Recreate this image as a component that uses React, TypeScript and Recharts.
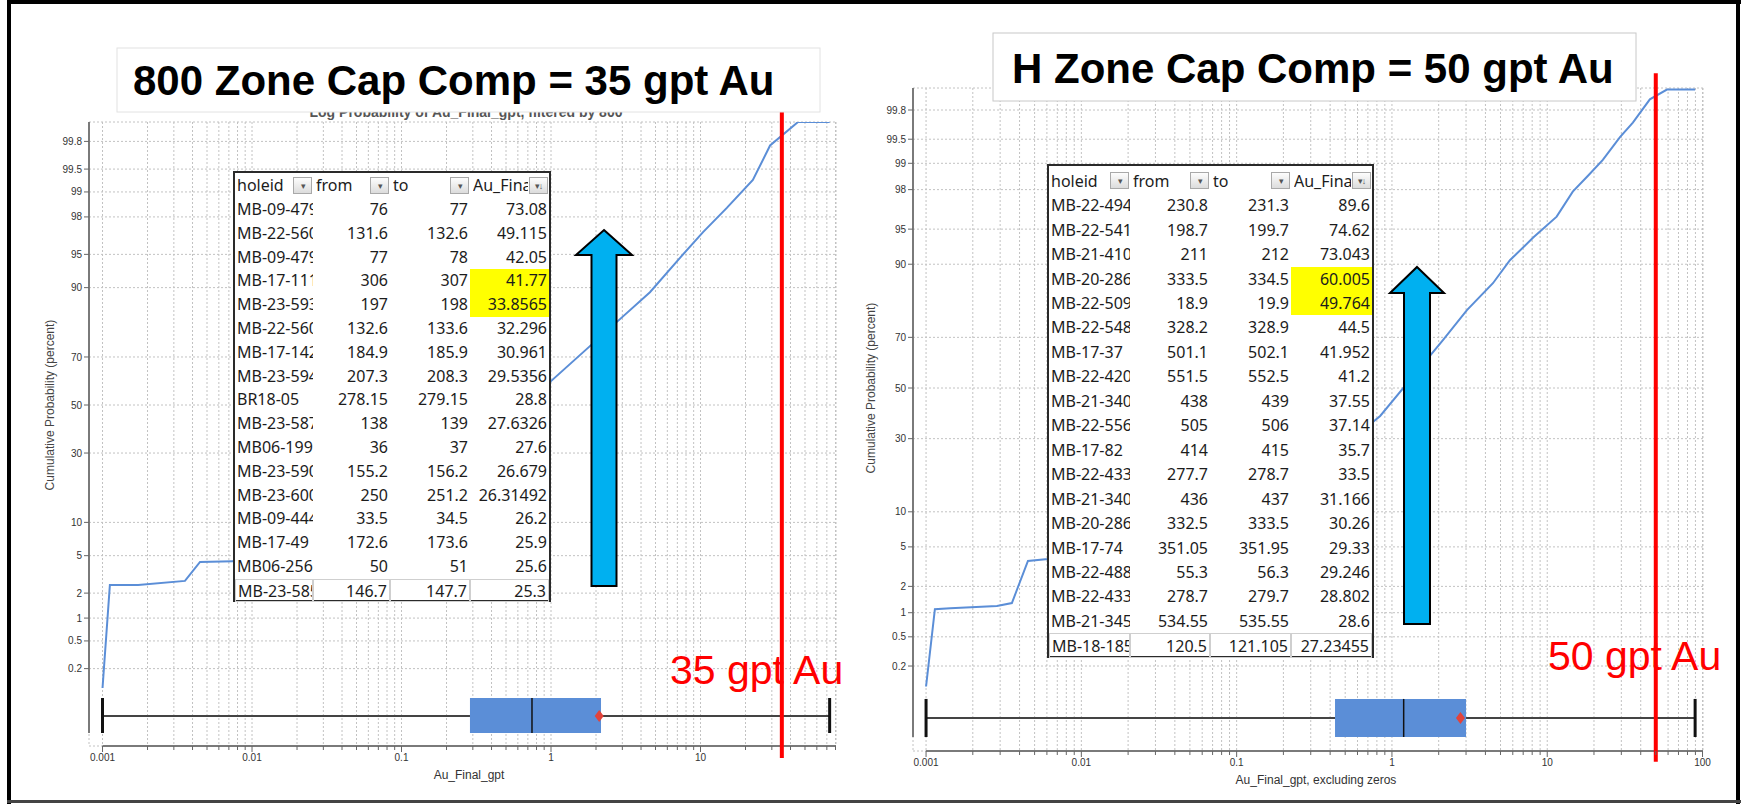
import React from "react";
import {
  ComposedChart,
  Line,
  Scatter,
  XAxis,
  YAxis,
  CartesianGrid,
  ReferenceLine,
  ReferenceArea,
} from "recharts";

// probability axis ticks (percent)
const PROB_TICKS = [0.2, 0.5, 1, 2, 5, 10, 30, 50, 70, 90, 95, 98, 99, 99.5, 99.8];
const DECADE_TICKS = [0.001, 0.01, 0.1, 1, 10, 100];
const DECADE_LABELS = ["0.001", "0.01", "0.1", "1", "10", "100"];

// 800 zone: grade (gpt) vs cumulative probability (percent)
const zone800Grade = [0.001, 0.00112, 0.00173, 0.00356, 0.00449, 0.00746, 0.02, 0.05, 0.1, 0.29, 0.75, 1.0, 2.76, 4.59, 7.29, 10.4, 15.0, 22.4, 29.2, 44.9, 73.08];
const zone800Prob = [0.1, 2.47, 2.47, 2.74, 4.33, 4.4, 9, 13, 18, 25, 50, 60.3, 81.8, 89.1, 94.6, 97.05, 98.43, 99.3, 99.77, 99.9, 99.9];
const zone800Box = { min: 0.001, q1: 0.287, median: 0.746, q3: 2.16, max: 73.08, mean: 2.1 };
const zone800Cap = 35;

// H zone
const zoneHGrade = [0.001, 0.00114, 0.00143, 0.00286, 0.00357, 0.00453, 0.0061, 0.02, 0.1, 0.43, 0.84, 2.13, 3.04, 4.47, 5.75, 8.09, 11.5, 14.6, 18.3, 22.8, 29.4, 35.6, 45.8, 59.0, 89.6];
const zoneHProb = [0.1, 1.1, 1.13, 1.2, 1.3, 3.67, 3.84, 7, 15, 25, 38.6, 69.0, 79.0, 86.1, 90.7, 94.0, 96.2, 97.9, 98.6, 99.09, 99.53, 99.7, 99.86, 99.9, 99.9];
const zoneHBox = { min: 0.001, q1: 0.43, median: 1.19, q3: 3.0, max: 89.6, mean: 2.76 };
const zoneHCap = 50;

// top composites tables
const zone800HoleIds = ["MB-09-479", "MB-22-560", "MB-09-479", "MB-17-111", "MB-23-593", "MB-22-560", "MB-17-142", "MB-23-594", "BR18-05", "MB-23-587", "MB06-199", "MB-23-590", "MB-23-600", "MB-09-444", "MB-17-49", "MB06-256", "MB-23-585"];
const zone800From = [76, 131.6, 77, 306, 197, 132.6, 184.9, 207.3, 278.15, 138, 36, 155.2, 250, 33.5, 172.6, 50, 146.7];
const zone800To = [77, 132.6, 78, 307, 198, 133.6, 185.9, 208.3, 279.15, 139, 37, 156.2, 251.2, 34.5, 173.6, 51, 147.7];
const zone800Au = [73.08, 49.115, 42.05, 41.77, 33.8565, 32.296, 30.961, 29.5356, 28.8, 27.6326, 27.6, 26.679, 26.31492, 26.2, 25.9, 25.6, 25.3];

const zoneHHoleIds = ["MB-22-494", "MB-22-541", "MB-21-410", "MB-20-286", "MB-22-509", "MB-22-548", "MB-17-37", "MB-22-420", "MB-21-340", "MB-22-556", "MB-17-82", "MB-22-433", "MB-21-340", "MB-20-286", "MB-17-74", "MB-22-488", "MB-22-433", "MB-21-345", "MB-18-185"];
const zoneHFrom = [230.8, 198.7, 211, 333.5, 18.9, 328.2, 501.1, 551.5, 438, 505, 414, 277.7, 436, 332.5, 351.05, 55.3, 278.7, 534.55, 120.5];
const zoneHTo = [231.3, 199.7, 212, 334.5, 19.9, 328.9, 502.1, 552.5, 439, 506, 415, 278.7, 437, 333.5, 351.95, 56.3, 279.7, 535.55, 121.105];
const zoneHAu = [89.6, 74.62, 73.043, 60.005, 49.764, 44.5, 41.952, 41.2, 37.55, 37.14, 35.7, 33.5, 31.166, 30.26, 29.33, 29.246, 28.802, 28.6, 27.23455];

const HEADERS = ["holeid", "from", "to", "Au_Final_gpt"];

// inverse normal cdf (Acklam) for the probability scale
function probit(p: number): number {
  const a = [-39.69683028665376, 220.9460984245205, -275.9285104469687, 138.357751867269, -30.66479806614716, 2.506628277459239];
  const b = [-54.47609879822406, 161.5858368580409, -155.6989798598866, 66.80131188771972, -13.28068155288572];
  const c = [-0.007784894002430293, -0.3223964580411365, -2.400758277161838, -2.549732539343734, 4.374664141464968, 2.938163982698783];
  const d = [0.007784695709041462, 0.3224671290700398, 2.445134137142996, 3.754408661907416];
  const pl = 0.02425;
  if (p < pl) {
    const q = Math.sqrt(-2 * Math.log(p));
    return (((((c[0] * q + c[1]) * q + c[2]) * q + c[3]) * q + c[4]) * q + c[5]) / ((((d[0] * q + d[1]) * q + d[2]) * q + d[3]) * q + 1);
  }
  if (p > 1 - pl) {
    const q = Math.sqrt(-2 * Math.log(1 - p));
    return -(((((c[0] * q + c[1]) * q + c[2]) * q + c[3]) * q + c[4]) * q + c[5]) / ((((d[0] * q + d[1]) * q + d[2]) * q + d[3]) * q + 1);
  }
  const q = p - 0.5;
  const r = q * q;
  return ((((((a[0] * r + a[1]) * r + a[2]) * r + a[3]) * r + a[4]) * r + a[5]) * q) / (((((b[0] * r + b[1]) * r + b[2]) * r + b[3]) * r + b[4]) * r + 1);
}

function logTicks(max: number) {
  const out: number[] = [];
  for (let e = -3; e <= 2; e++) {
    for (let m = 1; m <= 9; m++) {
      const v = Number((m * Math.pow(10, e)).toPrecision(2));
      if (v <= max) out.push(v);
    }
  }
  return out;
}

const Z_TICKS = PROB_TICKS.map((p) => probit(p / 100));
const SANS = '"Liberation Sans", Arial, sans-serif';

type Box = { min: number; q1: number; median: number; q3: number; max: number; mean: number };

type PlotCfg = {
  left: number;
  width: number;
  margin: { top: number; right: number; bottom: number; left: number };
  yAxisWidth: number;
  xDomain: [number, number];
  zDomain: [number, number];
  boxLo: number;
  boxHi: number;
  boxMid: number;
  capTop: number;
  capBottom: number;
  yLabel: [number, number];
  xLabel: string;
  xLabelPos: [number, number];
  grade: number[];
  prob: number[];
  box: Box;
  cap: number;
};

const XTick = (props: any) => {
  const { x, y, payload } = props;
  const i = DECADE_TICKS.indexOf(payload.value);
  const major = i >= 0;
  return (
    <g>
      <line x1={x} x2={x} y1={y} y2={y + (major ? 6 : 4)} stroke="#666" strokeWidth={1} />
      {major && (
        <text x={x} y={y + 15} textAnchor="middle" fontSize={10} fill="#333" fontFamily={SANS}>
          {DECADE_LABELS[i]}
        </text>
      )}
    </g>
  );
};

const Diamond = (props: any) => {
  const { cx, cy } = props;
  return <polygon points={`${cx},${cy - 6} ${cx + 4.5},${cy} ${cx},${cy + 6} ${cx - 4.5},${cy}`} fill="#e2433b" />;
};

function ProbPlot({ cfg }: { cfg: PlotCfg }) {
  const data = cfg.grade.map((g, i) => ({ x: g, z: probit(cfg.prob[i] / 100) }));
  const ticks = logTicks(cfg.xDomain[1]);
  const b = cfg.box;
  return (
    <div style={{ position: "absolute", left: cfg.left, top: 0 }}>
      <ComposedChart width={cfg.width} height={804} margin={cfg.margin}>
        <CartesianGrid stroke="#c2c2c2" strokeDasharray="2 2" />
        <XAxis
          type="number"
          dataKey="x"
          scale="log"
          domain={cfg.xDomain}
          allowDataOverflow
          ticks={ticks}
          interval={0}
          axisLine={false}
          tickLine={false}
          tickSize={0}
          tickMargin={0}
          height={40}
          tick={XTick}
          label={() => (
            <text x={cfg.xLabelPos[0]} y={cfg.xLabelPos[1]} textAnchor="middle" fontSize={12} fill="#333" fontFamily={SANS}>
              {cfg.xLabel}
            </text>
          )}
        />
        <YAxis
          type="number"
          dataKey="z"
          domain={cfg.zDomain}
          allowDataOverflow
          ticks={Z_TICKS}
          interval={0}
          width={cfg.yAxisWidth}
          axisLine={false}
          tickSize={5}
          tickLine={{ stroke: "#666" }}
          tick={{ fontSize: 10, fill: "#333", fontFamily: SANS }}
          tickFormatter={(v: number) => {
            const i = Z_TICKS.indexOf(v);
            return i >= 0 ? String(PROB_TICKS[i]) : "";
          }}
          label={() => (
            <text
              x={cfg.yLabel[0]}
              y={cfg.yLabel[1]}
              transform={`rotate(-90 ${cfg.yLabel[0]} ${cfg.yLabel[1]})`}
              textAnchor="middle"
              dominantBaseline="central"
              fontSize={12}
              fill="#444"
              fontFamily={SANS}
            >
              Cumulative Probability (percent)
            </text>
          )}
        />
        {/* axis lines */}
        <ReferenceLine
          segment={[{ x: cfg.xDomain[0], y: cfg.zDomain[1] }, { x: cfg.xDomain[0], y: cfg.boxLo }]}
          stroke="#7a7a7a"
          strokeWidth={2}
          ifOverflow="visible"
        />
        <ReferenceLine
          segment={[{ x: 0.001, y: cfg.zDomain[0] }, { x: cfg.xDomain[1], y: cfg.zDomain[0] }]}
          stroke="#7a7a7a"
          strokeWidth={2}
          ifOverflow="visible"
        />
        <Line data={data} dataKey="z" type="linear" stroke="#5b8ed7" strokeWidth={2} dot={false} isAnimationActive={false} />
        {/* box plot */}
        <ReferenceLine segment={[{ x: b.min, y: cfg.boxMid }, { x: b.q1, y: cfg.boxMid }]} stroke="#444" strokeWidth={2} ifOverflow="visible" />
        <ReferenceLine segment={[{ x: b.q3, y: cfg.boxMid }, { x: b.max, y: cfg.boxMid }]} stroke="#444" strokeWidth={2} ifOverflow="visible" />
        <ReferenceLine segment={[{ x: b.min, y: cfg.boxLo }, { x: b.min, y: cfg.boxHi }]} stroke="#111" strokeWidth={3} ifOverflow="visible" />
        <ReferenceLine segment={[{ x: b.max, y: cfg.boxLo }, { x: b.max, y: cfg.boxHi }]} stroke="#111" strokeWidth={3} ifOverflow="visible" />
        <ReferenceArea x1={b.q1} x2={b.q3} y1={cfg.boxLo} y2={cfg.boxHi} fill="#5b8ed7" fillOpacity={1} stroke="none" ifOverflow="visible" />
        <ReferenceLine segment={[{ x: b.median, y: cfg.boxLo }, { x: b.median, y: cfg.boxHi }]} stroke="#111" strokeWidth={1.5} ifOverflow="visible" />
        <Scatter data={[{ x: b.mean, z: cfg.boxMid }]} dataKey="z" shape={Diamond} isAnimationActive={false} />
        {/* cap */}
        <ReferenceLine
          segment={[{ x: cfg.cap, y: cfg.capTop }, { x: cfg.cap, y: cfg.capBottom }]}
          stroke="#ff0000"
          strokeWidth={4}
          ifOverflow="visible"
        />
      </ComposedChart>
    </div>
  );
}

type TableCfg = {
  left: number;
  top: number;
  width: number;
  height: number;
  cols: number[]; // column starts inside the border, plus the end
  firstCenter: number;
  pitch: number;
  highlight: number[];
  ids: string[];
  from: number[];
  to: number[];
  au: number[];
};

const FilterButton = ({ left, top, sort }: { left: number; top: number; sort?: boolean }) => (
  <div
    style={{
      position: "absolute",
      left,
      top,
      width: 19,
      height: 17,
      boxSizing: "border-box",
      border: "1px solid #a9a9a9",
      background: "linear-gradient(#fdfdfd, #dcdcdc)",
      fontSize: 9,
      lineHeight: "15px",
      textAlign: "center",
      color: "#555",
      whiteSpace: "nowrap",
      overflow: "hidden",
      letterSpacing: -1,
    }}
  >
    {sort ? "\u25BE\u2193" : "\u25BE"}
  </div>
);

function TopTable({ cfg }: { cfg: TableCfg }) {
  const rowH = cfg.pitch;
  const cells: React.ReactNode[] = [];
  const rowTop = (i: number) => cfg.firstCenter + i * rowH - rowH / 2;
  HEADERS.forEach((h, c) => {
    cells.push(
      <div
        key={"h" + c}
        style={{
          position: "absolute",
          left: cfg.cols[c] + (c === 0 ? 2 : 3),
          top: rowTop(0),
          width: cfg.cols[c + 1] - cfg.cols[c] - 24,
          height: rowH,
          lineHeight: rowH + "px",
          overflow: "hidden",
          whiteSpace: "nowrap",
        }}
      >
        {h}
      </div>
    );
    cells.push(<FilterButton key={"b" + c} left={cfg.cols[c + 1] - 20} top={cfg.firstCenter - 9} sort={c === 3} />);
  });
  cfg.ids.forEach((id, r) => {
    const i = r + 1;
    const last = r === cfg.ids.length - 1;
    const vals = [id, cfg.from[r], cfg.to[r], cfg.au[r]];
    vals.forEach((v, c) => {
      const hl = c === 3 && cfg.highlight.includes(r);
      cells.push(
        <div
          key={r + "-" + c}
          style={{
            position: "absolute",
            left: cfg.cols[c],
            top: rowTop(i),
            width: cfg.cols[c + 1] - cfg.cols[c],
            height: rowH,
            lineHeight: rowH + "px",
            boxSizing: "border-box",
            paddingLeft: c === 0 ? 2 : 0,
            paddingRight: c === 0 ? 0 : 2,
            textAlign: c === 0 ? "left" : "right",
            overflow: "hidden",
            whiteSpace: "nowrap",
            background: hl ? "#ffff00" : undefined,
            border: last ? "1px solid #cfcfcf" : undefined,
          }}
        >
          {String(v)}
        </div>
      );
    });
  });
  return (
    <div
      style={{
        position: "absolute",
        left: cfg.left,
        top: cfg.top,
        width: cfg.width,
        height: cfg.height,
        boxSizing: "border-box",
        border: "2px solid #2a2a2a",
        background: "#fff",
        fontFamily: '"Noto Sans", sans-serif',
        fontSize: 16,
        color: "#1c1c1c",
      }}
    >
      {cells}
    </div>
  );
}

const leftPlot: PlotCfg = {
  left: 0,
  width: 850,
  margin: { top: 122, right: 14, bottom: 18, left: 29 },
  yAxisWidth: 60,
  xDomain: [0.000812, 80.6],
  zDomain: [-3.723, 3.09],
  boxLo: -3.581,
  boxHi: -3.199,
  boxMid: -3.395,
  capTop: 3.21,
  capBottom: -3.854,
  yLabel: [50, 405],
  xLabel: "Au_Final_gpt",
  xLabelPos: [469, 779],
  grade: zone800Grade,
  prob: zone800Prob,
  box: zone800Box,
  cap: zone800Cap,
};

const rightPlot: PlotCfg = {
  left: 850,
  width: 891,
  margin: { top: 88, right: 38, bottom: 13, left: 23 },
  yAxisWidth: 40,
  xDomain: [0.000824, 100.7],
  zDomain: [-3.758, 3.106],
  boxLo: -3.613,
  boxHi: -3.219,
  boxMid: -3.416,
  capTop: 3.26,
  capBottom: -3.87,
  yLabel: [21, 388],
  xLabel: "Au_Final_gpt, excluding zeros",
  xLabelPos: [466, 784],
  grade: zoneHGrade,
  prob: zoneHProb,
  box: zoneHBox,
  cap: zoneHCap,
};

const leftTable: TableCfg = {
  left: 233,
  top: 171,
  width: 318,
  height: 431,
  cols: [0, 78, 155, 235, 314],
  firstCenter: 13,
  pitch: 23.8,
  highlight: [3, 4],
  ids: zone800HoleIds,
  from: zone800From,
  to: zone800To,
  au: zone800Au,
};

const rightTable: TableCfg = {
  left: 1047,
  top: 164,
  width: 327,
  height: 494,
  cols: [0, 81, 161, 242, 323],
  firstCenter: 15,
  pitch: 24.45,
  highlight: [3, 4],
  ids: zoneHHoleIds,
  from: zoneHFrom,
  to: zoneHTo,
  au: zoneHAu,
};

function Arrow({ tipX, tipY, headY, headHalf, shaftHalf, bottom }: { tipX: number; tipY: number; headY: number; headHalf: number; shaftHalf: number; bottom: number }) {
  const pts = [
    [tipX, tipY],
    [tipX + headHalf, headY],
    [tipX + shaftHalf, headY],
    [tipX + shaftHalf, bottom],
    [tipX - shaftHalf, bottom],
    [tipX - shaftHalf, headY],
    [tipX - headHalf, headY],
  ]
    .map((p) => p.join(","))
    .join(" ");
  return <polygon points={pts} fill="#00b0f0" stroke="#000" strokeWidth={2} strokeLinejoin="miter" />;
}

export default function App() {
  return (
    <div style={{ position: "absolute", left: 0, top: 0, width: 1741, height: 804, background: "#fff", overflow: "hidden" }}>
      <ProbPlot cfg={leftPlot} />
      <ProbPlot cfg={rightPlot} />
      <TopTable cfg={leftTable} />
      <TopTable cfg={rightTable} />
      <svg width={1741} height={804} style={{ position: "absolute", left: 0, top: 0, pointerEvents: "none" }}>
        {/* chart title mostly hidden behind the slide title */}
        <text x={466} y={117} textAnchor="middle" fontSize={14} fontWeight="bold" fill="#555" fontFamily={SANS}>
          Log Probability of Au_Final_gpt, filtered by 800
        </text>
        <rect x={117} y={48} width={703} height={64} fill="#fff" stroke="#e2e2e2" />
        <text x={133} y={95} fontSize={42} fontWeight="bold" fill="#000" fontFamily={SANS}>
          800 Zone Cap Comp = 35 gpt Au
        </text>
        <rect x={993} y={33} width={643} height={68} fill="#fff" stroke="#c8c8c8" />
        <text x={1012} y={83} fontSize={42} fontWeight="bold" fill="#000" fontFamily={SANS}>
          H Zone Cap Comp = 50 gpt Au
        </text>
        <Arrow tipX={604} tipY={230} headY={255} headHalf={28} shaftHalf={12.5} bottom={586} />
        <Arrow tipX={1417} tipY={267} headY={293} headHalf={27} shaftHalf={13} bottom={624} />
        <text x={670} y={684} fontSize={41} fill="#ff0000" fontFamily={SANS}>
          35 gpt Au
        </text>
        <text x={1548} y={670} fontSize={41} fill="#ff0000" fontFamily={SANS}>
          50 gpt Au
        </text>
        {/* slide frame */}
        <rect x={7} y={0} width={4} height={804} fill="#000" />
        <rect x={7} y={0} width={1734} height={4} fill="#000" />
        <rect x={1736} y={0} width={4} height={804} fill="#000" />
        <rect x={7} y={800} width={1734} height={3} fill="#444" />
      </svg>
    </div>
  );
}
